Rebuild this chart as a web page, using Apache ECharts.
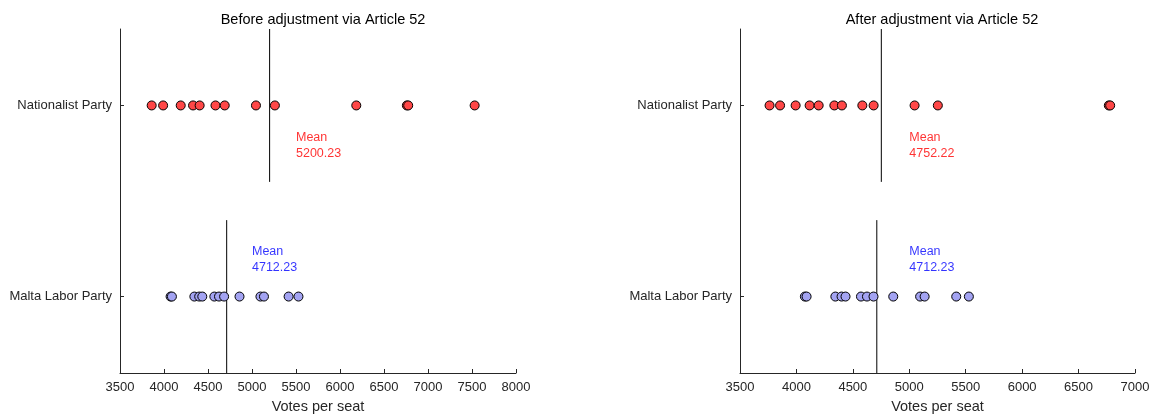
<!DOCTYPE html>
<html>
<head>
<meta charset="utf-8">
<script src="https://cdn.jsdelivr.net/npm/echarts@6/dist/echarts.min.js"></script>
<style>
  html, body { margin: 0; padding: 0; background: #fff; }
  #chart { width: 1152px; height: 415px; }
</style>
</head>
<body>
<div id="chart"></div>
<script>
// Votes per seat by district, Maltese general election
const parties = ['Malta Labor Party', 'Nationalist Party'];
const panelTitles = ['Before adjustment via Article 52', 'After adjustment via Article 52'];
const xLabel = 'Votes per seat';

const nationalistBefore = [3860, 3990, 4190, 4330, 4405, 4585, 4690, 5045, 5260, 6185, 6760, 6775, 7530];
const nationalistAfter  = [3762, 3855, 3993, 4117, 4197, 4336, 4403, 4584, 4684, 5047, 5253, 6768, 6780];
const labourBefore      = [4075, 4090, 4345, 4400, 4435, 4572, 4625, 4683, 4858, 5096, 5136, 5416, 5528];
const labourAfter       = [4075, 4090, 4345, 4400, 4435, 4572, 4625, 4683, 4858, 5096, 5136, 5416, 5528];

const meansBefore = { nationalist: 5200.23, labour: 4712.23 };
const meansAfter  = { nationalist: 4752.22, labour: 4712.23 };

const xMaxBefore = 8000;
const xMaxAfter = 7000;

const RED = '#ff4747';
const BLUE = '#a3a3f2';
const FONT = 'Liberation Sans';
const INK = '#262626';

const chart = echarts.init(document.getElementById('chart'));

function xAxisFor(gridIndex, max) {
  return {
    type: 'value', gridIndex, min: 3500, max, interval: 500,
    name: xLabel, nameLocation: 'middle', nameGap: 26,
    nameTextStyle: { color: INK, fontSize: 14.5, fontFamily: FONT },
    axisLine: { show: true, lineStyle: { color: INK, width: 1 } },
    axisTick: { show: true, inside: true, length: 4, lineStyle: { color: INK } },
    axisLabel: { color: INK, fontSize: 13, fontFamily: FONT, margin: 8, formatter: v => String(v) },
    splitLine: { show: false }
  };
}

function yAxisFor(gridIndex) {
  return {
    type: 'value', gridIndex, min: 0.6, max: 2.4,
    axisLine: { show: true, lineStyle: { color: INK, width: 1 } },
    axisTick: { show: true, inside: true, length: 4, customValues: [1, 2], lineStyle: { color: INK } },
    axisLabel: {
      customValues: [1, 2], color: INK, fontSize: 13, fontFamily: FONT, margin: 8,
      formatter: v => parties[Math.round(v) - 1] || ''
    },
    splitLine: { show: false }
  };
}

function dots(values, row, color, xi) {
  return {
    type: 'scatter', xAxisIndex: xi, yAxisIndex: xi,
    symbol: 'circle', symbolSize: 9,
    itemStyle: { color, borderColor: '#000', borderWidth: 1, opacity: 1 },
    data: values.map(v => [v, row]),
    z: 3
  };
}

function meanLine(mean, row, xi) {
  return {
    type: 'line', xAxisIndex: xi, yAxisIndex: xi,
    symbol: 'none', silent: true,
    lineStyle: { color: '#000', width: 1 },
    data: [[mean, row - 0.4], [mean, row + 0.4]],
    z: 2
  };
}

function meanText(mean, anchorX, anchorY, color, xi) {
  return {
    type: 'scatter', xAxisIndex: xi, yAxisIndex: xi,
    symbolSize: 0, silent: true,
    data: [[anchorX, anchorY]],
    label: {
      show: true, position: 'inside', align: 'left', verticalAlign: 'middle',
      color, fontSize: 12.5, fontFamily: FONT, lineHeight: 16,
      formatter: 'Mean\n' + mean.toFixed(2)
    },
    z: 4
  };
}

chart.setOption({
  animation: false,
  backgroundColor: '#fff',
  title: [
    { text: panelTitles[0], left: 318, top: 7, textAlign: 'center',
      textStyle: { fontSize: 14.5, fontWeight: 'normal', color: '#000', fontFamily: FONT } },
    { text: panelTitles[1], left: 937, top: 7, textAlign: 'center',
      textStyle: { fontSize: 14.5, fontWeight: 'normal', color: '#000', fontFamily: FONT } }
  ],
  grid: [
    { left: 120, right: 636, top: 29, bottom: 42, outerBoundsMode: 'none', containLabel: false },
    { left: 740, right: 17, top: 29, bottom: 42, outerBoundsMode: 'none', containLabel: false }
  ],
  xAxis: [xAxisFor(0, xMaxBefore), xAxisFor(1, xMaxAfter)],
  yAxis: [yAxisFor(0), yAxisFor(1)],
  series: [
    meanLine(meansBefore.nationalist, 2, 0),
    meanLine(meansBefore.labour, 1, 0),
    dots(nationalistBefore, 2, RED, 0),
    dots(labourBefore, 1, BLUE, 0),
    meanText(meansBefore.nationalist, 5500, 1.79, '#ff0000', 0),
    meanText(meansBefore.labour, 5000, 1.193, '#0000ff', 0),

    meanLine(meansAfter.nationalist, 2, 1),
    meanLine(meansAfter.labour, 1, 1),
    dots(nationalistAfter, 2, RED, 1),
    dots(labourAfter, 1, BLUE, 1),
    meanText(meansAfter.nationalist, 5000, 1.79, '#ff0000', 1),
    meanText(meansAfter.labour, 5000, 1.193, '#0000ff', 1)
  ]
});
</script>
</body>
</html>
